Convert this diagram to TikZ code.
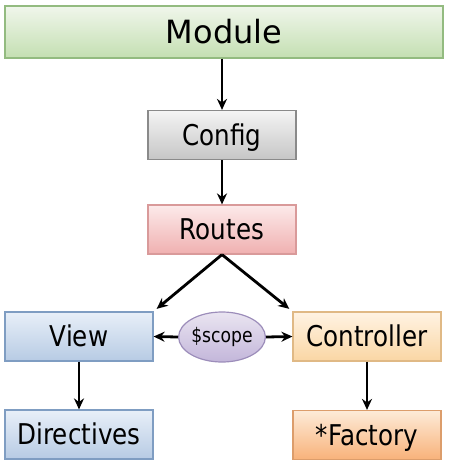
\documentclass[tikz,border=0pt]{standalone}
\usepackage{fontspec}
\setmainfont{DejaVu Sans}
\newfontfamily\narrowfont{DejaVu Sans}[FakeStretch=0.86]
\usetikzlibrary{arrows.meta,shapes.geometric}
\begin{document}
\begin{tikzpicture}[x=1pt,y=-1pt,
  box/.style={rectangle,draw,line width=1.2pt,minimum width=148pt,minimum height=49pt,inner sep=0pt,text height=20.8pt,text depth=0pt,font=\narrowfont\fontsize{28.6}{32}\selectfont},
  modbox/.style={box,minimum width=438pt,minimum height=52pt,text height=23.3pt,font=\fontsize{32}{36}\selectfont,
    draw=modB,top color=modT,bottom color=modD},
  cfgbox/.style={box,draw=cfgB,top color=cfgT,bottom color=cfgD},
  rtbox/.style={box,draw=rtB,top color=rtT,bottom color=rtD},
  bluebox/.style={box,draw=blB,top color=blT,bottom color=blD},
  ctlbox/.style={box,draw=ctB,top color=ctT,bottom color=ctD},
  facbox/.style={box,draw=faB,top color=faT,bottom color=faD},
  scopenode/.style={ellipse,draw=scB,line width=1.2pt,top color=scT,bottom color=scD,minimum width=80pt,minimum height=50pt,inner sep=0pt,font=\narrowfont\fontsize{20}{23}\selectfont},
  conn/.style={line width=2.8pt,-{Stealth[length=11pt,width=10pt]}}
]
\definecolor{modT}{HTML}{F0F6EB}\definecolor{modD}{HTML}{C4DFB2}\definecolor{modB}{HTML}{93BB80}
\definecolor{cfgT}{HTML}{F4F4F4}\definecolor{cfgD}{HTML}{C6C6C6}\definecolor{cfgB}{HTML}{8A8A8A}
\definecolor{rtT}{HTML}{FCEAEA}\definecolor{rtD}{HTML}{F0B0B0}\definecolor{rtB}{HTML}{D99A9A}
\definecolor{blT}{HTML}{E8EFF8}\definecolor{blD}{HTML}{B7CBE4}\definecolor{blB}{HTML}{7F9DC2}
\definecolor{ctT}{HTML}{FFF3E3}\definecolor{ctD}{HTML}{FAD6A4}\definecolor{ctB}{HTML}{E0B985}
\definecolor{faT}{HTML}{FDEBD8}\definecolor{faD}{HTML}{F8B27A}\definecolor{faB}{HTML}{DC9D6B}
\definecolor{scT}{HTML}{EAE5F1}\definecolor{scD}{HTML}{C3B6DA}\definecolor{scB}{HTML}{9C8DBA}
\useasboundingbox (0,0) rectangle (448,466);
\node[modbox] (module) at (224,32) {Module};
\node[cfgbox] (config) at (222,135) {Config};
\node[rtbox] (routes) at (222,229.5) {Routes};
\node[bluebox] (view) at (79,336.5) {View};
\node[ctlbox] (controller) at (367,336.5) {Controller};
\node[scopenode] (scope) at (222,337) {\$scope};
\node[bluebox] (directives) at (79,434.5) {Directives};
\node[facbox] (factory) at (367,435) {*Factory};
\draw[conn] (config.north |- module.south) -- (config.north);
\draw[conn] (config.south) -- (routes.north);
\draw[conn,shorten >=4pt] (routes.south) -- (view.north east);
\draw[conn,shorten >=4pt] (routes.south) -- (controller.north west);
\draw[conn] (scope.west) -- (view.east);
\draw[conn] (scope.east) -- (controller.west);
\draw[conn] (view.south) -- (directives.north);
\draw[conn] (controller.south) -- (factory.north);
\end{tikzpicture}
\end{document}
